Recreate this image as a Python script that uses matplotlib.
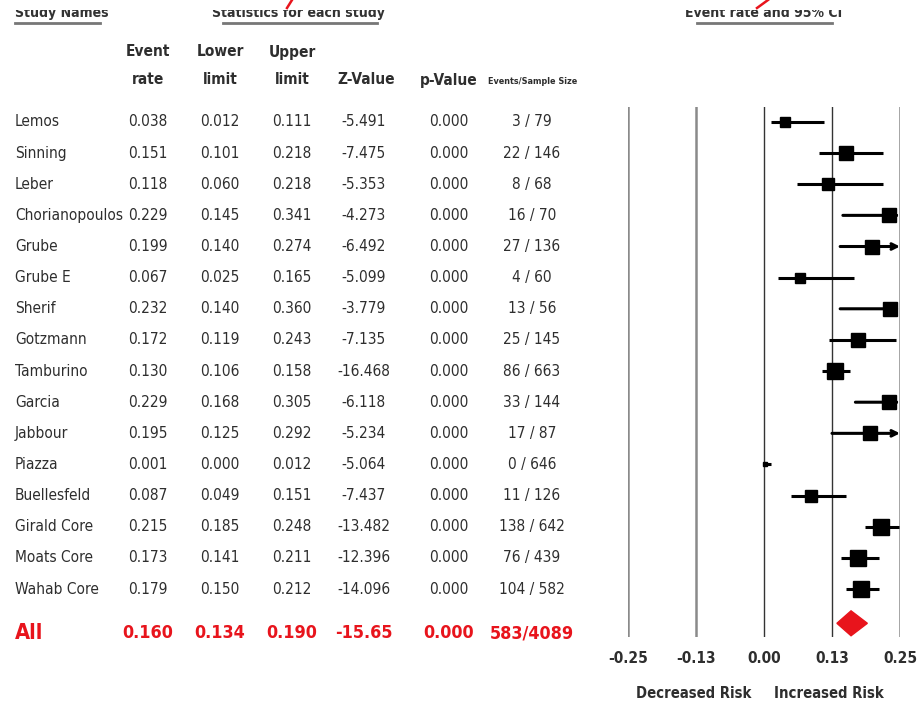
import numpy as np
import matplotlib
matplotlib.use("Agg")
import matplotlib.pyplot as plt
import matplotlib.transforms as mtransforms
from matplotlib.lines import Line2D
from matplotlib.patches import Rectangle
from matplotlib import font_manager as fm

# pick a narrow font if one is installed
names = {f.name for f in fm.fontManager.ttflist}
cond = [f for f in fm.fontManager.ttflist
        if f.name == 'DejaVu Sans' and 'condensed' in str(f.stretch)]
if 'Liberation Sans Narrow' in names:
    plt.rcParams['font.family'] = ['Liberation Sans Narrow', 'DejaVu Sans']
    SCALE = 1.0
elif cond:
    plt.rcParams['font.family'] = ['DejaVu Sans']
    plt.rcParams['font.stretch'] = 'condensed'
    SCALE = 0.92
else:
    plt.rcParams['font.family'] = ['Roboto', 'DejaVu Sans']
    SCALE = 0.88

# --- data ---
studies = ["Lemos", "Sinning", "Leber", "Chorianopoulos", "Grube", "Grube E",
           "Sherif", "Gotzmann", "Tamburino", "Garcia", "Jabbour", "Piazza",
           "Buellesfeld", "Girald Core", "Moats Core", "Wahab Core"]
event_rate = [0.038, 0.151, 0.118, 0.229, 0.199, 0.067, 0.232, 0.172,
              0.130, 0.229, 0.195, 0.001, 0.087, 0.215, 0.173, 0.179]
lower = [0.012, 0.101, 0.060, 0.145, 0.140, 0.025, 0.140, 0.119,
         0.106, 0.168, 0.125, 0.000, 0.049, 0.185, 0.141, 0.150]
upper = [0.111, 0.218, 0.218, 0.341, 0.274, 0.165, 0.360, 0.243,
         0.158, 0.305, 0.292, 0.012, 0.151, 0.248, 0.211, 0.212]
z_value = ["-5.491", "-7.475", "-5.353", "-4.273", "-6.492", "-5.099", "-3.779",
           "-7.135", "-16.468", "-6.118", "-5.234", "-5.064", "-7.437",
           "-13.482", "-12.396", "-14.096"]
p_value = ["0.000"] * 16
events = ["3 / 79", "22 / 146", "8 / 68", "16 / 70", "27 / 136", "4 / 60",
          "13 / 56", "25 / 145", "86 / 663", "33 / 144", "17 / 87", "0 / 646",
          "11 / 126", "138 / 642", "76 / 439", "104 / 582"]
# relative study weights (%)
weights = [4.5, 7.0, 5.5, 7.0, 7.5, 4.5, 6.5, 7.5, 8.5, 7.0, 6.5, 1.0,
           6.0, 8.5, 8.0, 8.5]

pooled = dict(rate=0.160, lower=0.134, upper=0.190)
pooled_text = ["0.160", "0.134", "0.190", "-15.65", "0.000", "583/4089"]

xticks = [-0.25, -0.125, 0.0, 0.125, 0.25]
xtick_labels = ["-0.25", "-0.13", "0.00", "0.13", "0.25"]

RED = "#e8141c"
TXT = "#2e2e2e"

fig = plt.figure(figsize=(9.18, 7.07), dpi=100)
ax = fig.add_axes([628 / 918, 1 - 637 / 707, 272 / 918, 530 / 707])
ax.set_xlim(-0.25, 0.25)
ax.set_ylim(16.54, -0.48)
for s in ax.spines.values():
    s.set_visible(False)
ax.set_yticks([])
ax.set_xticks(xticks)
ax.set_xticklabels(xtick_labels, fontsize=12 * SCALE, fontweight='bold', color=TXT)
ax.tick_params(axis='x', length=0, pad=10)

# reference lines
for xv in xticks:
    if xv in (0.0, 0.125):
        ax.axvline(xv, color="#333333", lw=1.0, zorder=1)
    else:
        ax.axvline(xv, color="#8a8a8a", lw=1.8, zorder=1)

rows = np.arange(len(studies))
xmax = 0.25
for i in rows:
    lo, hi, r = lower[i], upper[i], event_rate[i]
    if hi > xmax:
        ax.annotate("", xy=(xmax, i), xytext=(lo, i),
                    arrowprops=dict(arrowstyle="->", lw=2.2, color="black",
                                    shrinkA=0, shrinkB=0, mutation_scale=10),
                    zorder=3)
    else:
        ax.plot([lo, hi], [i, i], color="black", lw=2.2, solid_capstyle='butt', zorder=3)
    ax.plot(r, i, marker='s', color="black", ms=2.4 + 1.1 * weights[i],
            zorder=4, clip_on=False)

# pooled diamond
yd = 16.1
dh = 0.4
ax.fill([pooled['lower'], pooled['rate'], pooled['upper'], pooled['rate']],
        [yd, yd - dh, yd, yd + dh], color=RED, zorder=4, clip_on=False)

# table text aligned to the forest rows
tr = mtransforms.blended_transform_factory(fig.transFigure, ax.transData)
col_x = [148, 220, 292, 364, 449, 532]
col_x = [c / 918 for c in col_x]
for i in rows:
    ax.text(15 / 918, i, studies[i], transform=tr, ha='left', va='center',
            fontsize=12 * SCALE, color=TXT, clip_on=False)
    vals = ["%.3f" % event_rate[i], "%.3f" % lower[i], "%.3f" % upper[i],
            z_value[i], p_value[i], events[i]]
    for cx, v in zip(col_x, vals):
        ax.text(cx, i, v, transform=tr, ha='center', va='center',
                fontsize=12 * SCALE, color=TXT, clip_on=False)

ya = 16.42
ax.text(15 / 918, ya, "All", transform=tr, ha='left', va='center',
        fontsize=17 * SCALE, fontweight='bold', color=RED, clip_on=False)
for cx, v in zip(col_x, pooled_text):
    ax.text(cx, ya, v, transform=tr, ha='center', va='center',
            fontsize=14 * SCALE, fontweight='bold', color=RED, clip_on=False)

# column headers
def fy(py):
    return 1 - py / 707

hdr = dict(ha='center', va='center', fontsize=12 * SCALE, fontweight='bold', color=TXT)
fig.text(col_x[0], fy(52), "Event", **hdr)
fig.text(col_x[0], fy(80), "rate", **hdr)
fig.text(col_x[1], fy(52), "Lower", **hdr)
fig.text(col_x[1], fy(80), "limit", **hdr)
fig.text(col_x[2], fy(52), "Upper", **hdr)
fig.text(col_x[2], fy(80), "limit", **hdr)
fig.text(366 / 918, fy(80), "Z-Value", **hdr)
fig.text(449 / 918, fy(80), "p-Value", **hdr)
fig.text(533 / 918, fy(81), "Events/Sample Size", ha='center', va='center',
         fontsize=7 * SCALE, fontweight='bold', color=TXT)

# top section titles, upper half hidden by the cropped edge
top = dict(va='baseline', fontsize=11 * SCALE, fontweight='bold', color="#333333",
           zorder=3)
fig.text(15 / 918, fy(17), "Study Names", ha='left', **top)
fig.text(299 / 918, fy(17), "Statistics for each study", ha='center', **top)
fig.text(764 / 918, fy(17), "Event rate and 95% CI", ha='center', **top)
fig.add_artist(Rectangle((0, fy(10)), 1, 10 / 707, transform=fig.transFigure,
                         facecolor="white", edgecolor="none", zorder=4))
for x0, x1 in [(15, 100), (223, 377), (697, 832)]:
    fig.add_artist(Line2D([x0 / 918, x1 / 918], [fy(23), fy(23)],
                          color="#777777", lw=2, zorder=5))

# red annotation marks at the top edge
fig.add_artist(Line2D([287 / 918, 292 / 918], [fy(8), fy(0)], color=RED, lw=1.8, zorder=6))
fig.add_artist(Line2D([757 / 918, 768 / 918], [fy(8), fy(0)], color=RED, lw=1.8, zorder=6))

# axis captions
fig.text(694 / 918, fy(693), "Decreased Risk", ha='center', va='center',
         fontsize=11.5 * SCALE, fontweight='bold', color=TXT)
fig.text(829 / 918, fy(693), "Increased Risk", ha='center', va='center',
         fontsize=11.5 * SCALE, fontweight='bold', color=TXT)

fig.savefig("out.png", dpi=100)
